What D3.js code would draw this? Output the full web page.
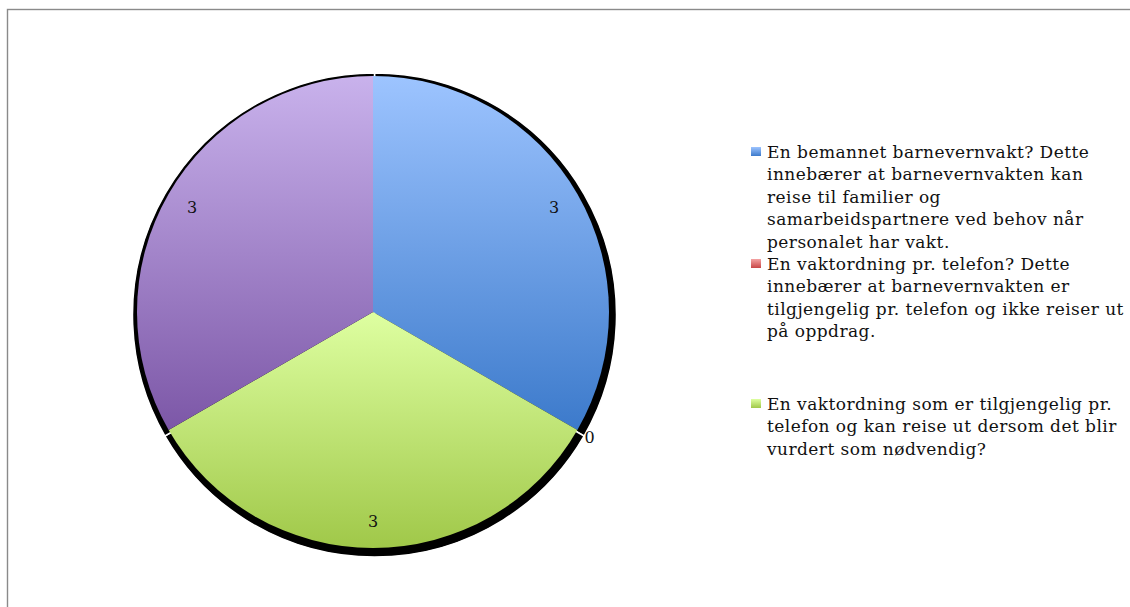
<!DOCTYPE html>
<html>
<head>
<meta charset="utf-8">
<script src="https://cdn.jsdelivr.net/npm/d3@7"></script>
<style>
  body { margin: 0; background: #fff; }
  #chart { width: 1130px; height: 607px; }
</style>
</head>
<body>
<div id="chart"></div>
<script>
// svar per alternativ (siste skive mangler i forklaringen)
const categories = [
    "En bemannet barnevernvakt? Dette\ninnebærer at barnevernvakten kan\nreise til familier og\nsamarbeidspartnere ved behov når\npersonalet har vakt.",
    "En vaktordning pr. telefon? Dette\ninnebærer at barnevernvakten er\ntilgjengelig pr. telefon og ikke reiser ut\npå oppdrag.",
    "En vaktordning som er tilgjengelig pr.\ntelefon og kan reise ut dersom det blir\nvurdert som nødvendig?",
    ""
]
const values = [3, 0, 3, 3]
const colorTop = ["#9dc4ff", "#f4a3a3", "#deffa1", "#c9b2ec"]
const colorBottom = ["#3c7acb", "#c84646", "#a0c849", "#7c57a7"]
const legendCount = 3

let DrawPie = function (id) {
    this.id = id
    this.svgWidth = 1130
    this.svgHeight = 607
    this.cx = 373
    this.cy = 312
    this.radius = 236

    this.svg = d3.select('#' + id).append('svg')
        .attr('width', this.svgWidth)
        .attr('height', this.svgHeight)

    // ramme
    this.svg.append('rect')
        .attr('x', 7.5).attr('y', 9.5)
        .attr('width', 1200).attr('height', 700)
        .attr('fill', 'none')
        .attr('stroke', '#8a8a8a')
        .attr('stroke-width', 1.4)

    let defs = this.svg.append('defs')
    values.forEach((v, i) => {
        let g = defs.append('linearGradient')
            .attr('id', 'grad' + i)
            .attr('x1', 0).attr('y1', 0).attr('x2', 0).attr('y2', 1)
        g.append('stop').attr('offset', '0%').attr('stop-color', colorTop[i])
        g.append('stop').attr('offset', '100%').attr('stop-color', colorBottom[i])
    })
}

DrawPie.prototype.drawPie = function () {
    const pie = d3.pie().sort(null).value(d => d)
    const arcs = pie(values)

    const arc = d3.arc().innerRadius(0).outerRadius(this.radius)
    const shadowArc = d3.arc().innerRadius(0).outerRadius(this.radius + 6)

    const shadow = this.svg.append('g')
        .attr('transform', 'translate(' + (this.cx + 1.5) + ',' + (this.cy + 3) + ')')
    shadow.selectAll('path').data(arcs.filter(d => d.value > 0)).join('path')
        .attr('d', shadowArc)
        .attr('fill', '#000')
        .attr('stroke', '#fff')
        .attr('stroke-width', 1.5)

    const g = this.svg.append('g')
        .attr('transform', 'translate(' + this.cx + ',' + this.cy + ')')
    g.selectAll('path').data(arcs.filter(d => d.value > 0)).join('path')
        .attr('d', arc)
        .attr('fill', d => 'url(#grad' + d.index + ')')

    const labelArc = d3.arc().innerRadius(209).outerRadius(209)
    const outArc = d3.arc().innerRadius(250).outerRadius(250)
    g.selectAll('text').data(arcs).join('text')
        .attr('transform', d => 'translate(' + (d.value > 0 ? labelArc : outArc).centroid(d) + ')')
        .attr('text-anchor', 'middle')
        .attr('dy', '0.35em')
        .attr('font-family', 'DejaVu Serif')
        .attr('font-size', 16)
        .attr('fill', '#111')
        .text(d => d.value)
}

DrawPie.prototype.drawLegend = function () {
    const rowY = [158, 270, 410]
    const lineH = 22.4
    const lg = this.svg.append('g').attr('class', 'legend')

    const item = lg.selectAll('g').data(categories.slice(0, legendCount)).join('g')
        .attr('transform', (d, i) => 'translate(751,' + rowY[i] + ')')

    item.append('rect')
        .attr('x', 0).attr('y', -11)
        .attr('width', 10).attr('height', 9)
        .attr('fill', (d, i) => 'url(#grad' + i + ')')

    item.append('text')
        .attr('font-family', 'DejaVu Serif')
        .attr('font-size', 17)
        .attr('letter-spacing', 0.45)
        .attr('fill', '#111')
        .selectAll('tspan').data(d => d.split('\n')).join('tspan')
        .attr('x', 16)
        .attr('y', (d, j) => j * lineH)
        .text(d => d)
}

let chart = new DrawPie('chart')
chart.drawPie()
chart.drawLegend()
</script>
</body>
</html>
